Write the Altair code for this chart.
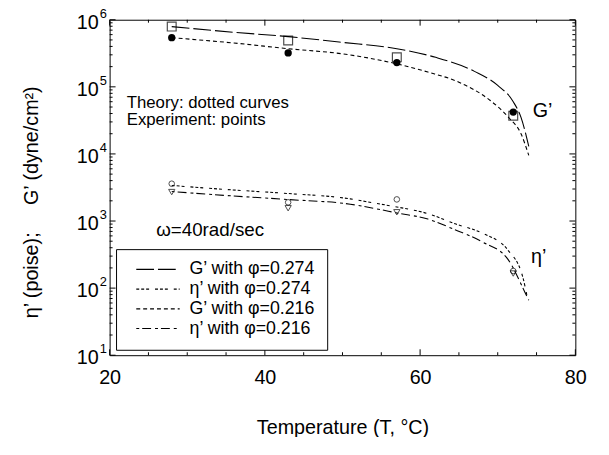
import altair as alt
import pandas as pd

FONT = "Liberation Sans"

# ---- theory curves ----
T_G274 = [28, 36, 43, 50, 57, 62, 67, 70, 72, 73, 74]
G274 = [7.9e5, 6.5e5, 5.6e5, 4.6e5, 3.7e5, 2.75e5, 1.7e5, 1.05e5, 6.0e4, 3.5e4, 1.3e4]
T_G216 = [28, 36, 43, 50, 57, 61, 65, 69, 71.5, 73, 74]
G216 = [5.4e5, 4.5e5, 3.7e5, 3.1e5, 2.2e5, 1.66e5, 1.17e5, 6.3e4, 3.4e4, 2.0e4, 9.5e3]
T_E274 = [28, 35, 43, 51, 54, 57, 61, 64.5, 68, 71.3, 73.2, 73.8]
E274 = [3390, 2950, 2570, 2140, 1860, 1620, 1290, 910, 660, 370, 150, 74]
T_E216 = [28, 35, 43, 51, 54, 57, 61, 64.5, 68, 71.3, 73.5, 74]
E216 = [2750, 2400, 2090, 1780, 1550, 1320, 1070, 740, 490, 270, 87, 66]

# ---- experimental points ----
exp_T = [28, 43, 57, 72]
exp_G274 = [7.9e5, 4.9e5, 2.75e5, 3.7e4]   # open squares
exp_G216 = [5.4e5, 3.2e5, 2.3e5, 4.2e4]    # filled circles
exp_E274 = [3600, 1900, 2100, 180]         # open circles
exp_E216 = [2700, 1550, 1350, 165]         # open triangles

legend_labels = ["G’ with φ=0.274", "η’ with φ=0.274", "G’ with φ=0.216", "η’ with φ=0.216"]
dashes = [[18, 4], [3, 2, 3, 2, 3, 6], [4, 3], [3, 3, 9, 4]]

x_major = [20, 40, 60, 80]
x_minor = [25, 30, 35, 45, 50, 55, 65, 70, 75]
y_major = [1e1, 1e2, 1e3, 1e4, 1e5, 1e6]
y_exp = ["1", "2", "3", "4", "5", "6"]
y_minor = [k * 10 ** n for n in range(1, 6) for k in range(2, 10)]

W, H = 472, 340

xs = alt.Scale(domain=[20, 80], nice=False)
ys = alt.Scale(type="log", domain=[10, 1e6], nice=False)
xaxis = alt.Axis(values=x_major, ticks=False, domain=False, grid=False, labelFlush=False,
                 labelFontSize=20, labelFont=FONT, labelPadding=13, labelColor="black",
                 title="Temperature (T, °C)", titleFontSize=20, titleFont=FONT,
                 titleFontWeight="normal", titlePadding=30, titleColor="black")
yaxis = alt.Axis(labels=False, ticks=False, domain=False, grid=False, title=None)


def X(f="T"):
    return alt.X(f"{f}:Q", scale=xs, axis=xaxis)


def Y(f="v"):
    return alt.Y(f"{f}:Q", scale=ys, axis=yaxis)


rows = []
for lab, ts, vs in zip(legend_labels, [T_G274, T_E274, T_G216, T_E216], [G274, E274, G216, E216]):
    for t, v in zip(ts, vs):
        rows.append({"T": t, "v": v, "series": lab})
curves = pd.DataFrame(rows)

lines = alt.Chart(curves).mark_line(color="black", strokeWidth=1.1, interpolate="monotone").encode(
    x=X(), y=Y(),
    strokeDash=alt.StrokeDash("series:N", scale=alt.Scale(domain=legend_labels, range=dashes), legend=None),
)

pts_sq = alt.Chart(pd.DataFrame({"T": exp_T, "v": exp_G274})).mark_point(
    shape="square", size=80, filled=False, color="black", strokeWidth=1.2).encode(x=X(), y=Y())
pts_fc = alt.Chart(pd.DataFrame({"T": exp_T, "v": exp_G216})).mark_point(
    shape="circle", size=55, filled=True, color="black", opacity=1).encode(x=X(), y=Y())
pts_oc = alt.Chart(pd.DataFrame({"T": exp_T, "v": exp_E274})).mark_point(
    shape="circle", size=32, filled=False, color="black", strokeWidth=1).encode(x=X(), y=Y())
pts_tr = alt.Chart(pd.DataFrame({"T": exp_T, "v": exp_E216})).mark_point(
    shape="triangle-down", size=40, filled=False, color="black", strokeWidth=1).encode(x=X(), y=Y())

# annotations
ann = pd.DataFrame({
    "T": [22.2, 22.2, 26.0],
    "v": [5.8e4, 3.2e4, 740],
    "txt": ["Theory: dotted curves", "Experiment: points", "ω=40rad/sec"],
    "fs": [17, 17, 19],
})
ann_text = alt.Chart(ann).mark_text(align="left", baseline="middle", font=FONT, color="black").encode(
    x=X(), y=Y(), text="txt:N", size=alt.Size("fs:Q", scale=None, legend=None))
lab = pd.DataFrame({"T": [74.5, 74.3], "v": [4.4e4, 290], "txt": ["G’", "η’"]})
lab_text = alt.Chart(lab).mark_text(align="left", baseline="middle", font=FONT, fontSize=20, color="black").encode(
    x=X(), y=Y(), text="txt:N")


# inward ticks
def xticks(vals, L):
    d = pd.DataFrame({"T": vals})
    b = alt.Chart(d).mark_rule(color="black", strokeWidth=1).encode(x=X(), y=alt.value(H), y2=alt.value(H - L))
    t = alt.Chart(d).mark_rule(color="black", strokeWidth=1).encode(x=X(), y=alt.value(0), y2=alt.value(L))
    return [b, t]


def yticks(vals, L):
    d = pd.DataFrame({"v": vals})
    l = alt.Chart(d).mark_rule(color="black", strokeWidth=1).encode(y=Y(), x=alt.value(0), x2=alt.value(L))
    r = alt.Chart(d).mark_rule(color="black", strokeWidth=1).encode(y=Y(), x=alt.value(W), x2=alt.value(W - L))
    return [l, r]


ticks = xticks(x_major, 6) + xticks(x_minor, 3) + yticks(y_major, 6) + yticks(y_minor, 3)

# y labels 10^n
yl = pd.DataFrame({"v": y_major, "e": y_exp})
ylab_base = alt.Chart(yl).mark_text(align="right", baseline="middle", font=FONT, fontSize=20, dy=3,
                                    color="black").encode(y=Y(), x=alt.value(-11), text=alt.value("10"))
ylab_exp = alt.Chart(yl).mark_text(align="left", baseline="middle", font=FONT, fontSize=13, dy=-6,
                                   color="black").encode(y=Y(), x=alt.value(-10), text="e:N")
one = pd.DataFrame({"a": [0]})
gap = "\u00a0" * 5
ytitle = alt.Chart(one).mark_text(angle=270, align="center", baseline="middle", font=FONT, fontSize=20,
                                  color="black").encode(
    x=alt.value(-79), y=alt.value(185), text=alt.value("η’ (poise);" + gap + "G’ (dyne/cm²)"))

# manual legend
box = alt.Chart(one).mark_rect(fill="white", stroke="black", strokeWidth=1).encode(
    x=alt.value(7), x2=alt.value(221), y=alt.value(233), y2=alt.value(335))
leg_layers = [box]
for i, (lab_s, dash) in enumerate(zip(legend_labels, dashes)):
    yy = 253 + 20 * i
    leg_layers.append(alt.Chart(one).mark_rule(color="black", strokeWidth=1.1, strokeDash=dash).encode(
        x=alt.value(27), x2=alt.value(71), y=alt.value(yy)))
    leg_layers.append(alt.Chart(one).mark_text(align="left", baseline="middle", font=FONT, fontSize=18,
                                               color="black").encode(
        x=alt.value(81), y=alt.value(yy), text=alt.value(lab_s)))

chart = alt.layer(
    lines, pts_sq, pts_fc, pts_oc, pts_tr, ann_text, lab_text, *ticks,
    ylab_base, ylab_exp, ytitle, *leg_layers
).properties(
    width=W, height=H,
    padding={"left": 103, "top": 9, "right": 26, "bottom": 80},
    autosize="none",
    background="white",
).configure_view(stroke="black", strokeWidth=1)

chart.save("out.html", embed_options={"renderer": "svg", "actions": False})
